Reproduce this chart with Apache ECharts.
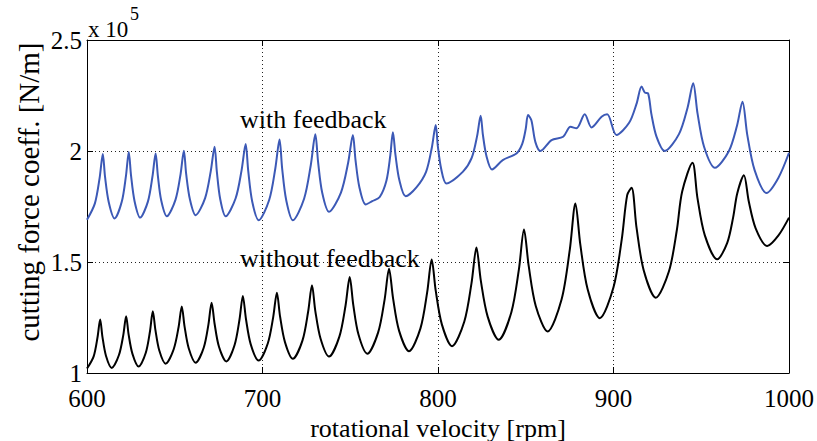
<!DOCTYPE html>
<html>
<head>
<meta charset="utf-8">
<script src="https://cdn.jsdelivr.net/npm/echarts@6/dist/echarts.min.js"></script>
<style>html,body{margin:0;padding:0;background:#fff}#c{width:817px;height:441px}</style>
</head>
<body>
<div id="c"></div>
<script>
// rotational velocity [rpm] and cutting force coefficient [x 1e5 N/m]
const rpmWith = [600,604.5,607.2,609.0,610.3,612.4,615.7,619.8,622.2,623.8,625.1,627.1,630.3,634.7,637.3,639.1,640.4,642.3,645.5,650.4,653.3,655.2,656.5,658.6,661.9,667.3,670.5,672.7,674.0,675.9,679.0,684.7,688.1,690.4,691.9,694.1,697.8,703.8,707.3,709.7,711.2,713.5,717.3,723.7,727.5,730.1,731.7,734.0,737.9,744.7,748.8,751.5,753.0,755.2,758.8,762.5,766.8,770.6,772.8,774.3,775.8,778.0,781.6,787.7,793.2,796.5,798.7,799.9,801.8,804.8,814.1,819.2,822.3,824.3,825.6,827.6,830.8,836.9,844.7,848.0,850.0,851.3,853.2,855.5,858.4,864.7,871.3,875.5,878.9,883.6,887.5,893.2,896.4,901.7,908.9,913.1,916.0,917.9,919.7,921.6,924.5,929.2,937.3,942.2,945.4,947.9,951.6,957.8,965.7,970.4,973.5,976.2,980.4,987.2,994,1000];
const forceWith = [1.69,1.764,1.879,1.986,1.882,1.769,1.696,1.771,1.888,1.996,1.889,1.774,1.700,1.772,1.885,1.989,1.887,1.777,1.706,1.780,1.895,2.001,1.897,1.784,1.711,1.788,1.908,2.019,1.906,1.784,1.706,1.787,1.914,2.031,1.908,1.774,1.688,1.779,1.921,2.052,1.921,1.779,1.688,1.785,1.936,2.075,1.949,1.813,1.726,1.813,1.947,2.072,1.959,1.837,1.759,1.774,1.793,1.866,1.979,2.084,1.980,1.868,1.796,1.836,1.906,2.016,2.117,2.022,1.920,1.854,1.906,1.969,2.068,2.159,2.072,1.978,1.917,1.959,1.989,2.032,2.100,2.162,2.139,2.04,2.0,2.049,2.064,2.109,2.102,2.165,2.106,2.154,2.165,2.072,2.127,2.212,2.290,2.263,2.260,2.166,2.065,2.0,2.076,2.195,2.305,2.168,2.019,1.924,1.999,2.115,2.222,2.074,1.914,1.811,1.88,1.992];
const rpmWithout = [600,603.8,606.0,607.5,608.8,610.8,614.1,618.2,620.7,622.3,623.7,625.9,629.4,633.5,635.9,637.5,639.0,641.2,644.8,649.4,652.2,654.0,655.6,658.0,661.9,666.5,669.2,671.0,672.7,675.2,679.4,684.1,686.9,688.8,690.6,693.3,697.8,703.0,706.1,708.2,710.0,712.8,717.3,722.8,726.0,728.2,730.1,733.1,737.9,743.8,747.3,749.7,751.7,754.7,759.7,765.9,769.6,772.1,774.4,777.8,783.5,790.0,793.8,796.4,798.7,802.2,808.0,815.0,819.1,821.9,824.4,828.3,834.6,841.8,846.1,849.0,851.7,855.7,862.4,870.4,875.1,878.3,881.1,885.3,892.2,900.0,904.7,907.8,910.3,913.1,917.2,924.1,931.6,936.1,939.1,945.0,947.8,952.0,959.1,964.8,968.2,970.5,974.3,977.0,981.0,987.6,994,1000];
const forceWithout = [1.02,1.075,1.161,1.241,1.163,1.078,1.023,1.081,1.172,1.256,1.174,1.086,1.029,1.091,1.188,1.278,1.193,1.101,1.042,1.107,1.207,1.300,1.209,1.110,1.046,1.114,1.219,1.317,1.222,1.118,1.052,1.126,1.241,1.347,1.242,1.129,1.056,1.133,1.252,1.362,1.255,1.139,1.064,1.147,1.276,1.395,1.279,1.154,1.074,1.164,1.303,1.432,1.308,1.173,1.087,1.183,1.332,1.470,1.336,1.191,1.098,1.201,1.362,1.511,1.371,1.219,1.121,1.232,1.405,1.565,1.416,1.254,1.150,1.274,1.467,1.646,1.481,1.302,1.187,1.331,1.556,1.764,1.578,1.376,1.247,1.386,1.602,1.801,1.834,1.656,1.463,1.339,1.458,1.644,1.816,1.947,1.790,1.621,1.512,1.586,1.702,1.809,1.891,1.776,1.652,1.572,1.62,1.70];
const seriesNames = ['with feedback', 'without feedback'];
const xTitle = 'rotational velocity [rpm]';
const yTitle = 'cutting force coeff. [N/m]';

const zip = (a, b) => a.map((v, i) => [v, b[i]]);
const FONT = '"Liberation Serif", "Times New Roman", serif';

const chart = echarts.init(document.getElementById('c'), null, {renderer: 'svg'});
const dotted = {show: true, lineStyle: {color: '#222', width: 1, type: [1, 3]}};
const axisCommon = {
  axisLine: {show: true, lineStyle: {color: '#000', width: 1}},
  axisTick: {show: true, inside: true, length: 6, lineStyle: {color: '#000'}},
};
chart.setOption({
  animation: false,
  backgroundColor: '#fff',
  grid: {left: 87, right: 28, top: 40, bottom: 68, containLabel: false},
  xAxis: [
    Object.assign({type: 'value', min: 600, max: 1000, interval: 100, position: 'bottom',
      axisLabel: {color: '#000', fontSize: 25, lineHeight: 24, fontFamily: FONT, margin: 13,
        showMinLabel: true, showMaxLabel: true, formatter: v => String(v)},
      splitLine: dotted}, axisCommon),
    Object.assign({type: 'value', min: 600, max: 1000, interval: 100, position: 'top',
      axisLabel: {show: false}, splitLine: {show: false}}, axisCommon)
  ],
  yAxis: [
    Object.assign({type: 'value', min: 1, max: 2.5, interval: 0.5, position: 'left',
      axisLabel: {color: '#000', fontSize: 25, lineHeight: 24, fontFamily: FONT, margin: 5, formatter: v => String(v)},
      splitLine: dotted}, axisCommon),
    Object.assign({type: 'value', min: 1, max: 2.5, interval: 0.5, position: 'right',
      axisLabel: {show: false}, splitLine: {show: false}}, axisCommon)
  ],
  series: [
    {name: seriesNames[0], type: 'line', data: zip(rpmWith, forceWith), showSymbol: false, smooth: 0.3,
      lineStyle: {color: '#3C59B6', width: 2}, xAxisIndex: 0, yAxisIndex: 0},
    {name: seriesNames[1], type: 'line', data: zip(rpmWithout, forceWithout), showSymbol: false, smooth: 0.3,
      lineStyle: {color: '#000', width: 2}, xAxisIndex: 0, yAxisIndex: 0}
  ],
  graphic: [
    {type: 'text', x: 438, y: 428, style: {text: xTitle, font: '26px ' + FONT, fill: '#000', textAlign: 'center', textVerticalAlign: 'middle'}},
    {type: 'text', x: 29, y: 192, rotation: Math.PI / 2, style: {text: yTitle, font: '29px ' + FONT, fill: '#000', textAlign: 'center', textVerticalAlign: 'middle'}},
    {type: 'text', x: 88, y: 29, style: {text: 'x 10', font: '23px ' + FONT, fill: '#000', textAlign: 'left', textVerticalAlign: 'middle'}},
    {type: 'text', x: 130, y: 14, style: {text: '5', font: '18px ' + FONT, fill: '#000', textAlign: 'left', textVerticalAlign: 'middle'}},
    {type: 'text', x: 240, y: 119, style: {text: seriesNames[0], font: '26px ' + FONT, fill: '#000', textAlign: 'left', textVerticalAlign: 'middle'}},
    {type: 'text', x: 240, y: 258, style: {text: seriesNames[1], font: '26px ' + FONT, fill: '#000', textAlign: 'left', textVerticalAlign: 'middle'}}
  ]
});
</script>
</body>
</html>
